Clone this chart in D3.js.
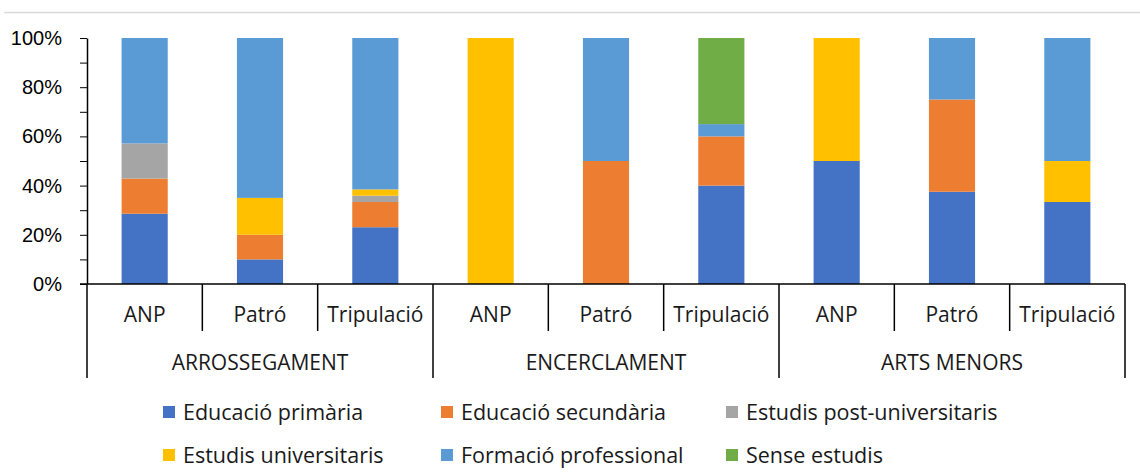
<!DOCTYPE html>
<meta charset="utf-8">
<style>
body { margin: 0; background: #fff; }
svg { display: block; font-family: "Open Sans", sans-serif; }
.axis path, .axis line { stroke: #000; }
.axis text { font-size: 20px; fill: #000; }
.cat { font-size: 21px; fill: #1a1a1a; }
.legend text { font-size: 21.5px; fill: #1a1a1a; }
</style>
<svg width="1140" height="474"></svg>
<script src="https://d3js.org/d3.v7.min.js"></script>
<script>

var groups = ["ARROSSEGAMENT", "ENCERCLAMENT", "ARTS MENORS"];
var roles = ["ANP", "Patró", "Tripulació"];
var series = ["Educació primària", "Educació secundària", "Estudis post-universitaris",
              "Estudis universitaris", "Formació professional", "Sense estudis"];
var colors = ["#4472C4", "#ED7D31", "#A5A5A5", "#FFC000", "#5B9BD5", "#70AD47"];

// shares per bar (group x role), one array per series
var primaria      = [0.2857, 0.10, 0.2308, 0,    0,    0.40, 0.50, 0.375, 0.3333];
var secundaria    = [0.1429, 0.10, 0.1026, 0,    0.50, 0.20, 0,    0.375, 0];
var postUniv      = [0.1429, 0,    0.0256, 0,    0,    0,    0,    0,     0];
var universitaris = [0,      0.15, 0.0256, 1.00, 0,    0,    0.50, 0,     0.1667];
var formacio      = [0.4286, 0.65, 0.6154, 0,    0.50, 0.05, 0,    0.25,  0.50];
var senseEstudis  = [0,      0,    0,      0,    0,    0.35, 0,    0,     0];
var yTicks = [0, 0.2, 0.4, 0.6, 0.8, 1];

var values = [primaria, secundaria, postUniv, universitaris, formacio, senseEstudis];

var svg = d3.select("svg"),
    plotLeft = 87, plotRight = 1125, plotTop = 38, plotBottom = 284;

var rows = [];
groups.forEach(function(g, gi) {
  roles.forEach(function(r, ri) {
    var i = gi * 3 + ri, row = {key: g + "|" + r, group: g, role: r};
    series.forEach(function(s, si) { row[s] = values[si][i]; });
    rows.push(row);
  });
});

var slot = d3.scaleBand().domain(rows.map(function(d) { return d.key; })).range([plotLeft, plotRight]);
var x = d3.scaleBand().domain(slot.domain()).range([plotLeft, plotRight]).paddingInner(0.6).paddingOuter(0.3);
var y = d3.scaleLinear().domain([0, 1]).range([plotBottom, plotTop]);

// light frame line at top
svg.append("line")
    .attr("x1", 4).attr("x2", 1140).attr("y1", 12.5).attr("y2", 12.5)
    .attr("stroke", "#d9d9d9").attr("stroke-width", 1.5);

var stack = d3.stack().keys(series)(rows);

svg.append("g").selectAll("g")
  .data(stack)
  .enter().append("g")
    .attr("fill", function(d, i) { return colors[i]; })
  .selectAll("rect")
  .data(function(d) { return d; })
  .enter().append("rect")
    .attr("x", function(d) { return x(d.data.key); })
    .attr("y", function(d) { return y(d[1]); })
    .attr("width", x.bandwidth())
    .attr("height", function(d) { return y(d[0]) - y(d[1]); });

// y axis with minor ticks
svg.append("g")
    .attr("class", "axis")
    .attr("transform", "translate(" + plotLeft + ",0)")
    .call(d3.axisLeft(y).tickValues(d3.range(0, 1.01, 0.1)).tickSize(7).tickSizeOuter(0).tickFormat(""))
    .call(function(g) { g.select(".domain").attr("stroke-width", 1.5); });

svg.append("g")
    .attr("class", "axis")
    .attr("transform", "translate(" + (plotLeft - 22) + ",0)")
    .call(d3.axisLeft(y).tickValues(yTicks).tickSize(0).tickFormat(d3.format(".0%")))
    .call(function(g) { g.select(".domain").remove(); });

// x axis baseline
svg.append("line")
    .attr("x1", plotLeft - 7).attr("x2", plotRight).attr("y1", plotBottom).attr("y2", plotBottom)
    .attr("stroke", "#000").attr("stroke-width", 1.5);

// dividers
var bounds = d3.range(rows.length + 1);
svg.append("g").selectAll("line")
  .data(bounds)
  .enter().append("line")
    .attr("x1", function(i) { return plotLeft + i * slot.step(); })
    .attr("x2", function(i) { return plotLeft + i * slot.step(); })
    .attr("y1", plotBottom)
    .attr("y2", function(i) { return i % 3 === 0 ? 378 : 331; })
    .attr("stroke", "#000").attr("stroke-width", 1.5);

svg.append("g").selectAll("text")
  .data(rows)
  .enter().append("text")
    .attr("class", "cat")
    .attr("x", function(d) { return slot(d.key) + slot.bandwidth() / 2; })
    .attr("y", 322)
    .attr("text-anchor", "middle")
    .text(function(d) { return d.role; });

svg.append("g").selectAll("text")
  .data(groups)
  .enter().append("text")
    .attr("class", "cat")
    .attr("x", function(g, gi) { return plotLeft + (gi * 3 + 1.5) * slot.step(); })
    .attr("y", 370)
    .attr("text-anchor", "middle")
    .text(function(g) { return g; });

// legend
var legX = [163, 441, 726], legY = [412, 455];
var leg = svg.append("g").attr("class", "legend").selectAll("g")
  .data(series)
  .enter().append("g")
    .attr("transform", function(d, i) { return "translate(" + legX[i % 3] + "," + legY[Math.floor(i / 3)] + ")"; });

leg.append("rect")
    .attr("x", 0).attr("y", -6).attr("width", 12).attr("height", 12)
    .attr("fill", function(d, i) { return colors[i]; });

leg.append("text")
    .attr("x", 20).attr("y", 0).attr("dy", "0.35em")
    .text(function(d) { return d; });

</script>
